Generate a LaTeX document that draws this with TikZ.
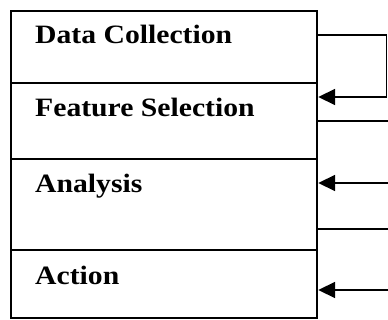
\documentclass[tikz,border=0pt]{standalone}
\usepackage{fontspec}
\setmainfont{Liberation Serif}[FakeStretch=1.12]
\usetikzlibrary{arrows.meta}
\begin{document}
\begin{tikzpicture}[x=1pt,y=-1pt,
  sect/.style={draw=black,line width=2.2pt,minimum width=306pt,inner sep=0pt,anchor=north west},
  lbl/.style={anchor=base west,inner sep=0pt,font=\fontsize{26.5}{30}\selectfont\bfseries},
  conn/.style={line width=1.8pt},
  arr/.style={line width=1.8pt,-{Triangle[length=17pt,width=16pt]}}]
\useasboundingbox (0,0) rectangle (388,320);
\node[sect,minimum height=72pt] (dc) at (10,10) {};
\node[sect,minimum height=76pt] (fs) at (10,82) {};
\node[sect,minimum height=91pt] (an) at (10,158) {};
\node[sect,minimum height=68pt] (ac) at (10,249) {};
\node[lbl] (tdc) at (35,44) {Data Collection};
\node[lbl] (tfs) at (35,117) {Feature Selection};
\node[lbl] (tan) at (35,193) {Analysis};
\node[lbl] (tac) at (35,284) {Action};
\coordinate (c1) at (386.5,35);
\coordinate (c2) at (386.5,97);
\coordinate (e1) at (388,121);
\coordinate (e2) at (388,183);
\coordinate (e3) at (388,229);
\coordinate (e4) at (388,290);
\draw[conn] (dc.east |- c1) -- (c1) -- (c2);
\draw[arr] (c2) -- (fs.east |- c2);
\draw[conn] (fs.east |- e1) -- (e1);
\draw[arr] (e2) -- (an.east |- e2);
\draw[conn] (an.east |- e3) -- (e3);
\draw[arr] (e4) -- (ac.east |- e4);
\end{tikzpicture}
\end{document}
